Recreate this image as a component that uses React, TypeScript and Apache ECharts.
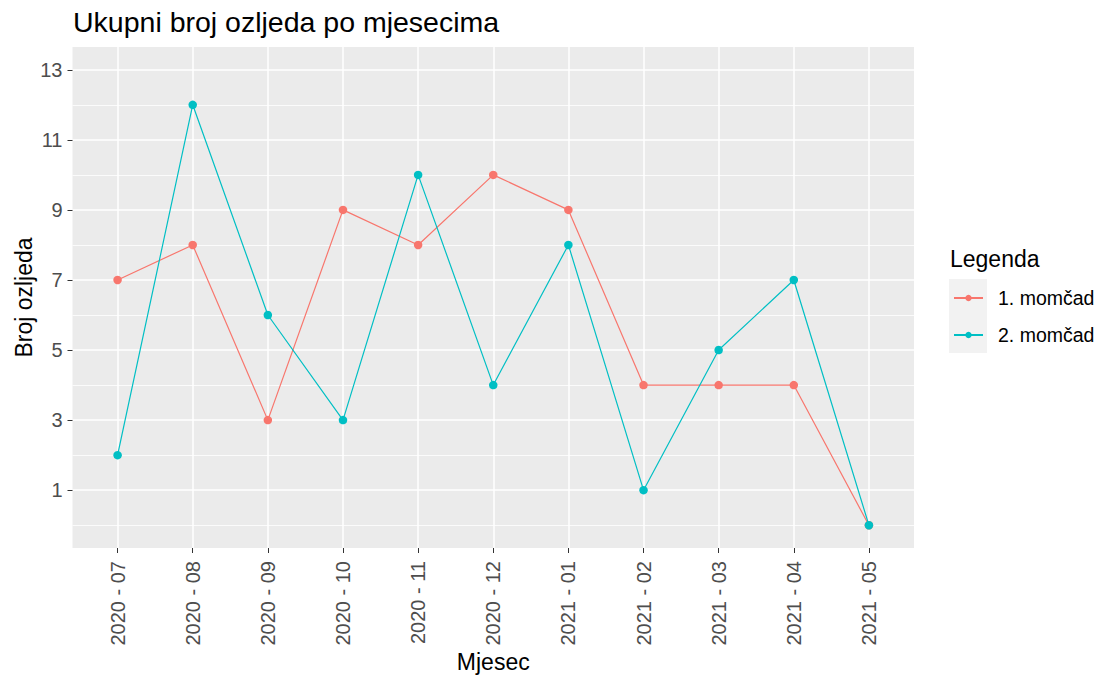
import React, { useEffect, useRef } from "react";
import * as echarts from "echarts";

const months = [
  "2020 - 07", "2020 - 08", "2020 - 09", "2020 - 10", "2020 - 11", "2020 - 12",
  "2021 - 01", "2021 - 02", "2021 - 03", "2021 - 04", "2021 - 05",
];
const team1 = [7, 8, 3, 9, 8, 10, 9, 4, 4, 4, 0];
const team2 = [2, 12, 6, 3, 10, 4, 8, 1, 5, 7, 0];
const seriesNames = ["1. momčad", "2. momčad"];
const yMajor = [1, 3, 5, 7, 9, 11, 13];
const yMinor = [0, 2, 4, 6, 8, 10, 12];

const FONT = "'Liberation Sans', Arial, sans-serif";

export default function App() {
  const ref = useRef<HTMLDivElement>(null);
  useEffect(() => {
    if (!ref.current) return;
    const chart = echarts.init(ref.current, null, { renderer: "svg" });
    const xTicks = months.map((_, i) => i);
    chart.setOption({
      animation: false,
      backgroundColor: "#FFFFFF",
      textStyle: { fontFamily: FONT },
      title: [
        {
          text: "Ukupni broj ozljeda po mjesecima",
          left: 73,
          top: 7,
          padding: 0,
          textStyle: { fontFamily: FONT, fontSize: 28.5, fontWeight: "normal", color: "#000000" },
        },
        {
          text: "Legenda",
          left: 950,
          top: 247,
          padding: 0,
          textStyle: { fontFamily: FONT, fontSize: 23, fontWeight: "normal", color: "#000000" },
        },
      ],
      grid: {
        left: 72.5,
        right: 186,
        top: 47,
        bottom: 128,
        show: true,
        backgroundColor: "#EBEBEB",
        borderWidth: 0,
        containLabel: false,
        outerBoundsMode: "none",
      },
      graphic: [
        {
          type: "rect",
          shape: { x: 949, y: 279, width: 38, height: 74 },
          style: { fill: "#F2F2F2" },
          z: 0,
        },
      ],
      legend: {
        data: seriesNames,
        orient: "vertical",
        left: 953,
        top: 288,
        padding: 0,
        itemWidth: 29,
        itemHeight: 8,
        itemGap: 17,
        textStyle: {
          fontFamily: FONT,
          fontSize: 19.5,
          color: "#000000",
          lineHeight: 20,
          padding: [0, 0, 0, 10],
        },
      },
      xAxis: {
        type: "value",
        min: -0.6,
        max: 10.6,
        name: "Mjesec",
        nameLocation: "middle",
        nameGap: 102,
        nameMoveOverlap: false,
        nameTextStyle: { fontFamily: FONT, fontSize: 23, color: "#000000", lineHeight: 24 },
        axisLine: { show: false, onZero: false },
        axisTick: {
          show: true,
          customValues: xTicks,
          length: 5,
          lineStyle: { color: "#333333", width: 1 },
        },
        axisLabel: {
          customValues: xTicks,
          rotate: 90,
          margin: 13,
          fontFamily: FONT,
          fontSize: 20,
          color: "#4D4D4D",
          formatter: (v: number) => months[Math.round(v)] ?? "",
        },
        splitLine: { show: true, lineStyle: { color: "#FFFFFF", width: 1.5 } },
      },
      yAxis: [
        {
          type: "value",
          min: -0.65,
          max: 13.65,
          name: "Broj ozljeda",
          nameLocation: "middle",
          nameGap: 37,
          nameMoveOverlap: false,
          nameTextStyle: { fontFamily: FONT, fontSize: 23, color: "#000000", lineHeight: 24 },
          axisLine: { show: false, onZero: false },
          axisTick: {
            show: true,
            customValues: yMajor,
            length: 5,
            lineStyle: { color: "#333333", width: 1 },
          },
          axisLabel: {
            customValues: yMajor,
            margin: 10,
            fontFamily: FONT,
            fontSize: 20,
            color: "#4D4D4D",
          },
          splitLine: { show: true, lineStyle: { color: "#FFFFFF", width: 1.5 } },
        },
        {
          type: "value",
          min: -0.65,
          max: 13.65,
          position: "left",
          axisLine: { show: false, onZero: false },
          axisTick: { show: false, customValues: yMinor },
          axisLabel: { show: false, customValues: yMinor },
          splitLine: { show: true, lineStyle: { color: "#FFFFFF", width: 0.8 } },
        },
      ],
      series: [
        {
          name: seriesNames[0],
          type: "line",
          data: team1.map((v, i) => [i, v]),
          symbol: "circle",
          symbolSize: 8.5,
          itemStyle: { color: "#F8766D" },
          lineStyle: { color: "#F8766D", width: 1.2 },
          z: 3,
        },
        {
          name: seriesNames[1],
          type: "line",
          data: team2.map((v, i) => [i, v]),
          symbol: "circle",
          symbolSize: 8.5,
          itemStyle: { color: "#00BFC4" },
          lineStyle: { color: "#00BFC4", width: 1.2 },
          z: 4,
        },
      ],
    });
    return () => chart.dispose();
  }, []);
  return (
    <div
      ref={ref}
      style={{ position: "fixed", left: 0, top: 0, width: 1100, height: 676 }}
    />
  );
}
